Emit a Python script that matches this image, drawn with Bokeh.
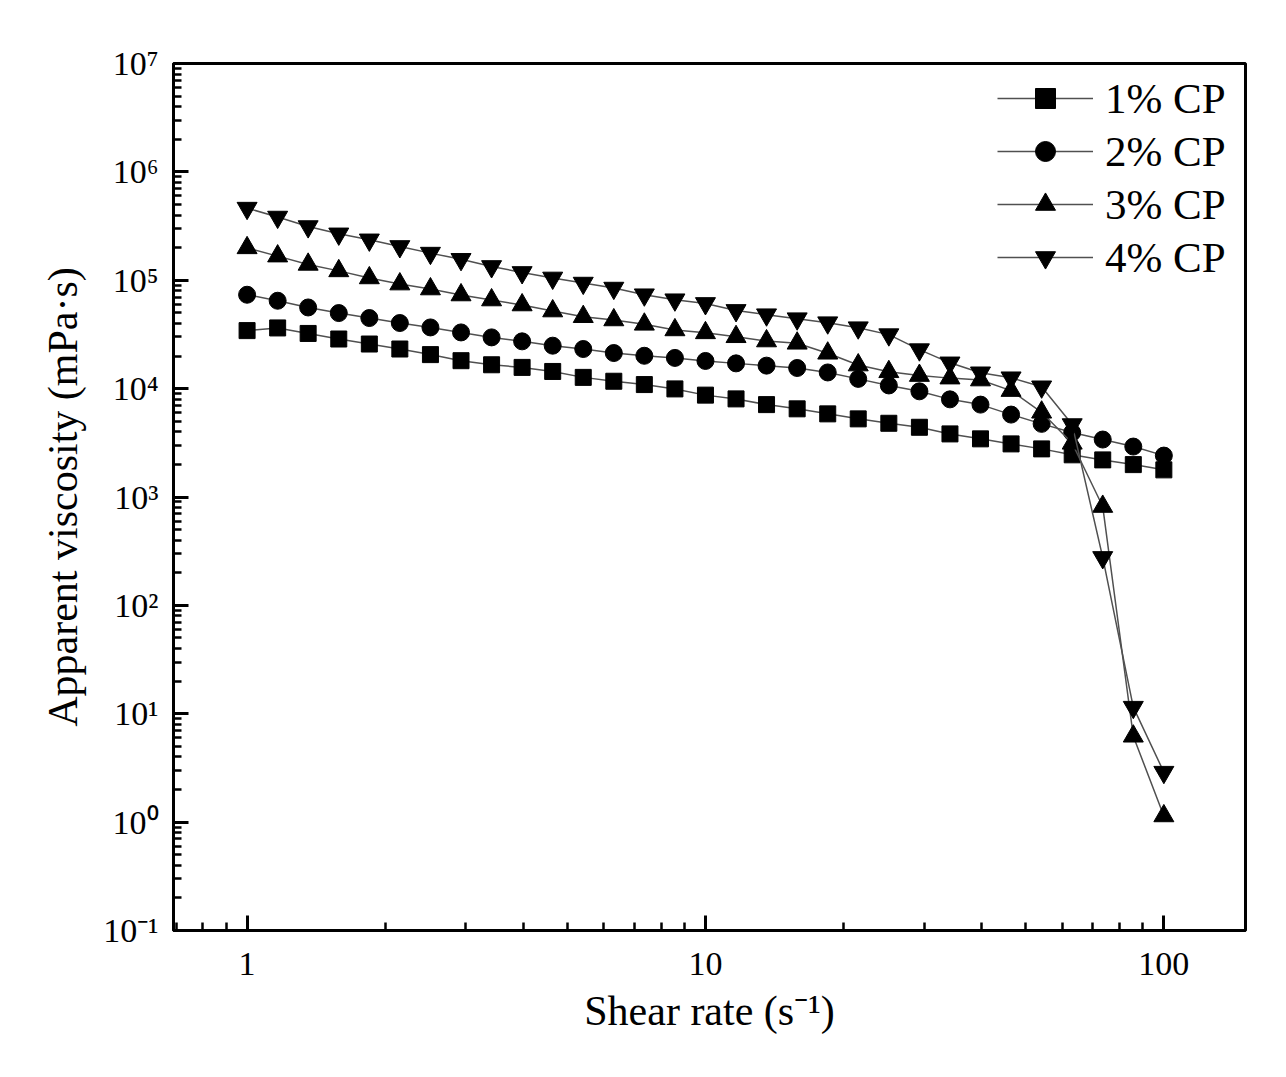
from bokeh.plotting import figure
from bokeh.models import Range1d, FixedTicker, CustomJSTickFormatter, Legend, LegendItem
from bokeh.embed import file_html
from bokeh.resources import INLINE

# ---- data ----
shear_rate = [1, 1.166, 1.359, 1.585, 1.848, 2.154, 2.512, 2.929, 3.415, 3.981,
              4.642, 5.412, 6.310, 7.356, 8.577, 10, 11.66, 13.59, 15.85, 18.48,
              21.54, 25.12, 29.29, 34.15, 39.81, 46.42, 54.12, 63.10, 73.56, 85.77, 100]

visc_1cp = [34300, 36300, 32300, 28700, 25800, 23200, 20600, 18100, 16600, 15700,
            14400, 12700, 11700, 10900, 9940, 8710, 8040, 7120, 6510, 5850,
            5260, 4790, 4400, 3820, 3440, 3090, 2780, 2450, 2200, 1990, 1780]
visc_2cp = [73500, 64700, 56100, 49800, 44800, 40300, 36700, 33000, 29700, 27300,
            24900, 23200, 21300, 20100, 19200, 18000, 17100, 16300, 15500, 14100,
            12300, 10700, 9440, 7960, 7120, 5760, 4730, 3930, 3390, 2920, 2410]
visc_3cp = [199000, 167000, 140000, 122000, 105000, 92200, 83000, 73100, 65700, 59100,
            52000, 46100, 43000, 39200, 34800, 32700, 30100, 27500, 26200, 21200,
            16500, 14300, 13200, 12500, 12000, 9590, 6050, 3130, 817, 6.2, 1.14]
visc_4cp = [463000, 383000, 313000, 268000, 236000, 205000, 178000, 156000, 134000, 118000,
            105000, 94200, 84700, 73500, 66100, 61100, 52700, 48100, 44200, 40600,
            36500, 31500, 22900, 17300, 14000, 12600, 10400, 4660, 277, 11.5, 2.89]

series_names = ["1% CP", "2% CP", "3% CP", "4% CP"]
series_values = [visc_1cp, visc_2cp, visc_3cp, visc_4cp]
series_markers = ["square", "circle", "triangle", "inverted_triangle"]
series_sizes = [16, 17, 20, 20]

x_major = [1, 10, 100]
x_minor = [0.7, 0.8, 0.9, 2, 3, 4, 5, 6, 7, 8, 9, 20, 30, 40, 50, 60, 70, 80, 90]
y_major = [1e-1, 1e0, 1e1, 1e2, 1e3, 1e4, 1e5, 1e6, 1e7]
y_minor = [m * 10.0 ** e for e in range(-1, 7) for m in range(2, 10)]

FONT = "Liberation Serif"

p = figure(width=1270, height=1060, x_axis_type="log", y_axis_type="log",
           x_range=Range1d(0.691, 150.7), y_range=Range1d(0.1, 1e7),
           output_backend="svg", toolbar_location=None,
           min_border_left=173, min_border_right=25,
           min_border_top=63, min_border_bottom=130)

p.xgrid.visible = False
p.ygrid.visible = False
p.outline_line_color = "black"
p.outline_line_width = 3
p.background_fill_color = "white"
p.border_fill_color = "white"

for ax in (p.xaxis[0], p.yaxis[0]):
    ax.axis_line_width = 3
    ax.axis_line_color = "black"
    ax.major_tick_in = 15
    ax.major_tick_out = 0
    ax.minor_tick_in = 8
    ax.minor_tick_out = 0
    ax.major_tick_line_width = 3
    ax.minor_tick_line_width = 2.5
    ax.major_tick_line_color = "black"
    ax.minor_tick_line_color = "black"
    ax.major_label_text_font = FONT
    ax.major_label_text_font_size = "34px"
    ax.major_label_text_color = "black"
    ax.axis_label_text_font = FONT
    ax.axis_label_text_font_size = "42px"
    ax.axis_label_text_font_style = "normal"
    ax.axis_label_text_color = "black"

p.xaxis.ticker = FixedTicker(ticks=x_major, minor_ticks=x_minor)
p.yaxis.ticker = FixedTicker(ticks=y_major, minor_ticks=y_minor)
p.xaxis.formatter = CustomJSTickFormatter(code="return String(Math.round(tick));")
p.yaxis.formatter = CustomJSTickFormatter(code="""
const e = Math.round(Math.log10(tick));
const m = {'-':'\u207b','0':'\u2070','1':'\u00b9','2':'\u00b2','3':'\u00b3',
           '4':'\u2074','5':'\u2075','6':'\u2076','7':'\u2077','8':'\u2078','9':'\u2079'};
return '10' + String(e).split('').map(c => m[c]).join('');
""")
p.xaxis.major_label_standoff = 22
p.yaxis.major_label_standoff = 15
p.xaxis.axis_label = "Shear rate (s\u207b\u00b9)"
p.yaxis.axis_label = "Apparent viscosity (mPa\u00b7s)"
p.xaxis.axis_label_standoff = 10
p.yaxis.axis_label_standoff = 14

items = []
for name, vals, mk, sz in zip(series_names, series_values, series_markers, series_sizes):
    ln = p.line(shear_rate, vals, line_color="#505050", line_width=1.5)
    sc = p.scatter(shear_rate, vals, marker=mk, size=sz, fill_color="black",
                   line_color="black", line_width=1)
    items.append(LegendItem(label=name, renderers=[ln, sc]))

legend = Legend(items=items, location="top_right",
                border_line_color=None, background_fill_alpha=0,
                glyph_width=96, glyph_height=50, label_height=50, label_width=130,
                spacing=3, padding=4, margin=10, label_standoff=12,
                label_text_font=FONT, label_text_font_size="43px",
                label_text_color="black")
p.add_layout(legend)

open("out.html", "w").write(file_html(p, INLINE))
